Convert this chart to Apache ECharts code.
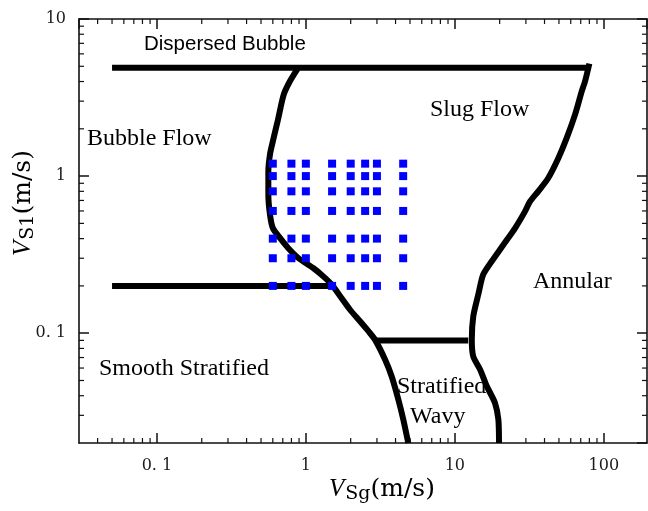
<!DOCTYPE html>
<html>
<head>
<meta charset="utf-8">
<script src="https://cdn.jsdelivr.net/npm/echarts@6/dist/echarts.min.js"></script>
<style>
html, body { margin: 0; padding: 0; background: #fff; }
#chart { width: 648px; height: 511px; }
</style>
</head>
<body>
<div id="chart"></div>
<script>
// 流型边界线，点为 [Vsg, Vsl]
const dispersedBubbleLine = [[0.05, 4.9], [79, 4.9]];
const bubbleStratLine = [[0.05, 0.2], [1.5, 0.2]];
const wavyTopLine = [[2.9, 0.09], [12.3, 0.09]];
const leftCurve = [
  [0.89, 4.9], [0.78, 4.0], [0.71, 3.3], [0.65, 2.29], [0.6, 1.66], [0.574, 1.37],
  [0.56, 1.07], [0.56, 0.76], [0.574, 0.57], [0.6, 0.467], [0.67, 0.404], [0.76, 0.349],
  [0.89, 0.301], [1.12, 0.26], [1.31, 0.23], [1.49, 0.204], [1.7, 0.172], [1.98, 0.141],
  [2.31, 0.119], [2.63, 0.103], [2.91, 0.091], [3.4, 0.068], [3.77, 0.053], [4.18, 0.0377],
  [4.51, 0.0282], [4.87, 0.02]
];
const rightCurve = [
  [80, 5.2], [74.8, 4.0], [71.1, 3.46], [64.1, 2.46], [56.4, 1.75], [49.5, 1.3],
  [42.4, 0.973], [36.3, 0.8], [32.0, 0.69], [29.6, 0.596], [25.4, 0.467], [21.2, 0.366],
  [17.7, 0.287], [15.5, 0.236], [14.4, 0.178], [13.3, 0.128], [13.0, 0.091], [13.3, 0.071],
  [14.8, 0.0586], [16.4, 0.0459], [18.6, 0.036], [19.6, 0.0282], [19.8, 0.02]
];

// 实验工况点
const testVsg = [0.6, 0.8, 1, 1.5, 2, 2.5, 3, 4.5];
const testVsl = [1.2, 1, 0.8, 0.6, 0.4, 0.3, 0.2];

// 对数坐标次刻度
const xMinorTicks = [0.04, 0.05, 0.06, 0.07, 0.08, 0.09, 0.2, 0.3, 0.4, 0.5, 0.6, 0.7, 0.8, 0.9,
  2, 3, 4, 5, 6, 7, 8, 9, 20, 30, 40, 50, 60, 70, 80, 90];
const yMinorTicks = [0.03, 0.04, 0.05, 0.06, 0.07, 0.08, 0.09, 0.2, 0.3, 0.4, 0.5, 0.6, 0.7, 0.8, 0.9,
  2, 3, 4, 5, 6, 7, 8, 9];

const serif = 'Liberation Serif';
const axisColor = '#111';

const testPoints = [];
testVsl.forEach(y => testVsg.forEach(x => testPoints.push([x, y])));

const tickFormatter = v => (Math.abs(v - 0.1) < 1e-9 ? '0. 1' : String(+v.toPrecision(6)));

const baseAxis = {
  type: 'log',
  logBase: 10,
  splitLine: { show: false },
  axisLine: { lineStyle: { color: axisColor, width: 1.6 } },
  axisTick: { inside: true, length: 10, lineStyle: { color: axisColor, width: 1.5 } }
};

const boundary = (data) => ({
  type: 'line',
  data: data,
  showSymbol: false,
  smooth: 0.25,
  lineStyle: { color: '#000', width: 6, cap: 'butt', join: 'round' },
  z: 2,
  silent: true
});

// 次刻度：上下 / 左右各画一段
const renderXMinor = (params, api) => {
  const cs = params.coordSys;
  const px = api.coord([api.value(0), 1])[0];
  const bottom = cs.y + cs.height;
  const st = { stroke: axisColor, lineWidth: 1.2 };
  return {
    type: 'group',
    children: [
      { type: 'line', shape: { x1: px, y1: bottom, x2: px, y2: bottom - 5 }, style: st },
      { type: 'line', shape: { x1: px, y1: cs.y, x2: px, y2: cs.y + 5 }, style: st }
    ]
  };
};
const renderYMinor = (params, api) => {
  const cs = params.coordSys;
  const py = api.coord([1, api.value(1)])[1];
  const right = cs.x + cs.width;
  const st = { stroke: axisColor, lineWidth: 1.2 };
  return {
    type: 'group',
    children: [
      { type: 'line', shape: { x1: cs.x, y1: py, x2: cs.x + 5, y2: py }, style: st },
      { type: 'line', shape: { x1: right, y1: py, x2: right - 5, y2: py }, style: st }
    ]
  };
};

const regionText = (text, x, y, font) => ({
  type: 'text',
  x: x,
  y: y,
  silent: true,
  style: {
    text: text,
    font: font || ('24px "' + serif + '"'),
    fill: '#000',
    align: 'left',
    verticalAlign: 'middle',
    textAlign: 'left',
    textVerticalAlign: 'middle'
  }
});

const titleRich = {
  v: { fontFamily: serif, fontStyle: 'italic', fontSize: 25, color: '#000' },
  s: { fontFamily: 'DejaVu Serif', fontSize: 19, color: '#000', padding: [10, 0, 0, 1] },
  u: { fontFamily: 'DejaVu Serif', fontSize: 25, color: '#000' }
};

const chart = echarts.init(document.getElementById('chart'));
const option = {
  animation: false,
  backgroundColor: '#fff',
  grid: { left: 79, right: 1, top: 19, bottom: 68 },
  xAxis: [
    Object.assign({}, baseAxis, {
      position: 'bottom',
      min: 0.03,
      max: 195,
      axisLabel: {
        fontFamily: 'DejaVu Serif', fontSize: 16, color: '#1a1a1a', margin: 15,
        showMinLabel: false, showMaxLabel: false, formatter: tickFormatter
      }
    }),
    Object.assign({}, baseAxis, {
      position: 'top',
      min: 0.03,
      max: 195,
      axisLabel: { show: false }
    })
  ],
  yAxis: [
    Object.assign({}, baseAxis, {
      position: 'left',
      min: 0.02,
      max: 10,
      axisLabel: {
        fontFamily: 'DejaVu Serif', fontSize: 16, color: '#1a1a1a', margin: 13,
        showMinLabel: false, showMaxLabel: true, formatter: tickFormatter
      }
    }),
    Object.assign({}, baseAxis, {
      position: 'right',
      min: 0.02,
      max: 10,
      axisLabel: { show: false }
    })
  ],
  series: [
    boundary(dispersedBubbleLine),
    boundary(bubbleStratLine),
    boundary(wavyTopLine),
    boundary(leftCurve),
    boundary(rightCurve),
    {
      type: 'scatter',
      data: testPoints,
      symbol: 'rect',
      symbolSize: 8,
      itemStyle: { color: '#0000ff', opacity: 1 },
      z: 4,
      silent: true
    },
    {
      type: 'custom',
      renderItem: renderXMinor,
      data: xMinorTicks.map(v => [v, 1]),
      encode: { x: 0, y: 1 },
      silent: true,
      z: 1
    },
    {
      type: 'custom',
      renderItem: renderYMinor,
      data: yMinorTicks.map(v => [1, v]),
      encode: { x: 0, y: 1 },
      silent: true,
      z: 1
    }
  ],
  graphic: [
    regionText('Dispersed Bubble', 144, 44, '20.5px "Liberation Sans"'),
    regionText('Bubble Flow', 87, 139),
    regionText('Slug Flow', 430, 110),
    regionText('Annular', 533, 282),
    regionText('Smooth Stratified', 99, 369),
    regionText('Stratified', 397, 387),
    regionText('Wavy', 410, 417),
    {
      type: 'text',
      x: 382,
      y: 489,
      silent: true,
      style: {
        text: '{v|V}{s|Sg}{u|(m/s)}',
        rich: titleRich,
        align: 'center',
        verticalAlign: 'middle',
        textAlign: 'center',
        textVerticalAlign: 'middle'
      }
    },
    {
      type: 'text',
      x: 23,
      y: 203,
      rotation: Math.PI / 2,
      silent: true,
      style: {
        text: '{v|V}{s|S1}{u|(m/s)}',
        rich: titleRich,
        align: 'center',
        verticalAlign: 'middle',
        textAlign: 'center',
        textVerticalAlign: 'middle'
      }
    }
  ]
};
chart.setOption(option);

window.addEventListener('resize', () => chart.resize());
</script>
</body>
</html>
